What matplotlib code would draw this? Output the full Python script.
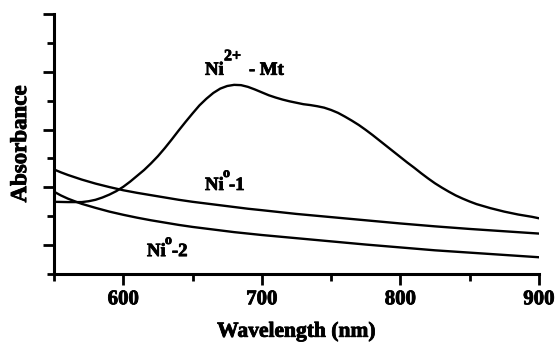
"""UV-vis absorbance spectra of Ni-montmorillonite samples."""

import matplotlib

matplotlib.use("Agg")
import matplotlib.patheffects as pe
import matplotlib.pyplot as plt
from matplotlib.ticker import MultipleLocator

plt.rcParams.update({
    "font.family": "Liberation Serif",
    "font.weight": "bold",
    "axes.facecolor": "white",
    "figure.facecolor": "white",
})

# values (arbitrary absorbance units)
ni2_wl = [550, 560, 570, 575, 580, 585, 590, 595, 600, 605, 610, 615, 620,
          625, 630, 635, 640, 645, 650, 655, 660, 665, 670, 675, 680, 685,
          690, 695, 700, 705, 710, 715, 720, 725, 730, 735, 740, 745, 750,
          755, 760, 765, 770, 775, 780, 785, 790, 795, 800, 805, 810, 815,
          820, 825, 830, 835, 840, 845, 850, 855, 860, 865, 870, 875, 880,
          885, 890, 895, 900]
ni2_abs = [2.50, 2.49, 2.49, 2.52, 2.57, 2.65, 2.75, 2.87, 3.02, 3.20, 3.40,
           3.60, 3.83, 4.08, 4.36, 4.66, 4.97, 5.27, 5.56, 5.84, 6.07, 6.27,
           6.42, 6.51, 6.55, 6.54, 6.48, 6.39, 6.29, 6.19, 6.11, 6.04, 5.98,
           5.93, 5.88, 5.85, 5.81, 5.76, 5.68, 5.58, 5.45, 5.31, 5.16, 4.99,
           4.81, 4.62, 4.43, 4.24, 4.05, 3.86, 3.68, 3.49, 3.31, 3.14, 2.99,
           2.85, 2.72, 2.61, 2.51, 2.42, 2.35, 2.28, 2.22, 2.16, 2.11, 2.06,
           2.02, 1.98, 1.93]

ni0_1_wl = [550, 555, 560, 565, 570, 580, 590, 600, 610, 620, 630, 640, 650,
            660, 670, 680, 690, 700, 725, 750, 775, 800, 825, 850, 875, 900]
ni0_1_abs = [3.62, 3.52, 3.43, 3.35, 3.27, 3.13, 3.01, 2.90, 2.81, 2.73, 2.65,
             2.57, 2.50, 2.44, 2.38, 2.32, 2.26, 2.21, 2.08, 1.97, 1.86, 1.75,
             1.65, 1.56, 1.48, 1.40]

ni0_2_wl = [550, 555, 560, 566, 570, 580, 590, 600, 610, 620, 630, 640, 650,
            660, 670, 680, 690, 700, 725, 750, 775, 800, 825, 850, 875, 900]
ni0_2_abs = [2.85, 2.72, 2.61, 2.50, 2.43, 2.29, 2.16, 2.05, 1.95, 1.86, 1.78,
             1.70, 1.63, 1.57, 1.51, 1.45, 1.40, 1.35, 1.24, 1.13, 1.02, 0.92,
             0.82, 0.74, 0.66, 0.58]

x_ticks = [600, 700, 800, 900]

# a thin outline thickens the glyphs toward the heavy scanned look
heavy = [pe.withStroke(linewidth=0.6, foreground="black")]

fig = plt.figure(figsize=(5.55, 3.44), dpi=100)
ax = fig.add_axes([0.0973, 0.2035, 0.8737, 0.7555])

for wl, ab in [(ni2_wl, ni2_abs), (ni0_1_wl, ni0_1_abs), (ni0_2_wl, ni0_2_abs)]:
    ax.plot(wl, ab, color="black", linewidth=1.7, solid_joinstyle="round")

ax.set_xlim(550, 900)
ax.set_ylim(0, 9)
ax.set_xticks(x_ticks)
ax.xaxis.set_minor_locator(MultipleLocator(50))
ax.yaxis.set_major_locator(MultipleLocator(2, offset=1))
ax.yaxis.set_minor_locator(MultipleLocator(2))
ax.set_yticklabels([])

for side in ("top", "right"):
    ax.spines[side].set_visible(False)
for side in ("left", "bottom"):
    ax.spines[side].set_linewidth(2.2)

ax.tick_params(which="major", length=8, width=2.0, direction="out")
ax.tick_params(which="minor", length=5, width=2.0, direction="out")
ax.tick_params(axis="x", which="major", labelsize=15, pad=3)
for t in ax.get_xticklabels():
    t.set_path_effects(heavy)

ax.set_xlabel("Wavelength (nm)", fontsize=15.5, fontweight="bold", labelpad=9,
              path_effects=heavy)
ax.set_ylabel("Absorbance", fontsize=16.5, fontweight="bold", labelpad=5,
              path_effects=heavy)

# curve labels, superscripts placed as separate raised texts
lab = dict(fontweight="bold", ha="left", va="baseline", path_effects=heavy)
ax.text(659, 6.90, "Ni", fontsize=13.5, **lab)
ax.text(672.7, 7.40, "2+", fontsize=11.5, **lab)
ax.text(690.7, 6.90, "- Mt", fontsize=13.5, **lab)

ax.text(659, 2.91, "Ni", fontsize=13.5, **lab)
ax.text(672, 3.36, "o", fontsize=10, **lab)
ax.text(676.3, 2.91, "-1", fontsize=13.5, **lab)

ax.text(617.1, 0.62, "Ni", fontsize=13.5, **lab)
ax.text(630.1, 1.04, "o", fontsize=10, **lab)
ax.text(635.1, 0.62, "-2", fontsize=13.5, **lab)

fig.savefig("out.png", dpi=100)
